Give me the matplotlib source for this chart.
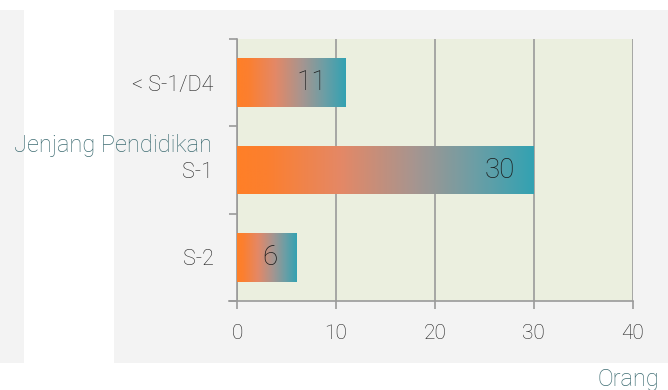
import matplotlib
matplotlib.use("Agg")
import matplotlib.pyplot as plt
import numpy as np
from matplotlib.colors import LinearSegmentedColormap
from matplotlib.patches import Rectangle
from matplotlib import font_manager

categories = ["< S-1/D4", "S-1", "S-2"]
values = [11, 30, 6]
x_ticks = [0, 10, 20, 30, 40]
y_title = "Jenjang Pendidikan"
x_title = "Orang"

names = {f.name for f in font_manager.fontManager.ttflist}
family = "Roboto" if "Roboto" in names else "DejaVu Sans"
plt.rcParams["font.family"] = family
plt.rcParams["font.weight"] = "light"

W, H = 668, 390
fig = plt.figure(figsize=(W / 100, H / 100), dpi=100)
fig.patch.set_facecolor("white")

panel = "#f3f3f3"
fig.patches.append(Rectangle((0, 27 / H), 24 / W, 353 / H, transform=fig.transFigure,
                             facecolor=panel, edgecolor="none", zorder=-5))
fig.patches.append(Rectangle((114 / W, 27 / H), (W - 114) / W, 353 / H, transform=fig.transFigure,
                             facecolor=panel, edgecolor="none", zorder=-5))

ax = fig.add_axes([237 / W, 89 / H, 395.5 / W, 262 / H])
ax.set_facecolor("#ebefdf")

cmap = LinearSegmentedColormap.from_list(
    "bar_grad",
    [(0.0, "#ff7f27"), (0.1, "#fc7f2f"), (0.35, "#e48866"),
     (0.6, "#a69590"), (0.8, "#6d9ea5"), (1.0, "#33a2b2")])

bar_h = 0.56
grad = np.linspace(0, 1, 256).reshape(1, -1)
for i, v in enumerate(values):
    bars = ax.barh(i, v, height=bar_h, color="none", edgecolor="none", zorder=3)
    rect = bars[0]
    im = ax.imshow(grad, cmap=cmap, aspect="auto", zorder=3,
                   extent=[0, v, i + bar_h / 2, i - bar_h / 2], interpolation="bilinear")
    im.set_clip_path(rect)
    ax.annotate(str(v), xy=(v, i), xytext=(-13.5, 0), textcoords="offset points",
                ha="right", va="center", fontsize=20, color="#1a1a1a", zorder=4)

ax.set_xlim(0, 40)
ax.set_ylim(len(categories) - 0.5, -0.5)

grid_c = "#9a9a9a"
ax.set_xticks(x_ticks)
ax.set_xticklabels([str(t) for t in x_ticks])
ax.xaxis.grid(True, color=grid_c, linewidth=1.2, zorder=1)
ax.set_axisbelow(True)

ax.set_yticks(range(len(categories)))
ax.set_yticklabels(categories)
ax.set_yticks(np.arange(-0.5, len(categories)), minor=True)

ax.tick_params(axis="x", length=6, width=1.2, color=grid_c, pad=10.5,
               labelsize=15, labelcolor="#222222")
ax.tick_params(axis="y", which="major", length=0, pad=17,
               labelsize=15.5, labelcolor="#222222")
ax.tick_params(axis="y", which="minor", length=6, width=1.2, color=grid_c)

for side in ("top", "right"):
    ax.spines[side].set_visible(False)
for side in ("left", "bottom"):
    ax.spines[side].set_color(grid_c)
    ax.spines[side].set_linewidth(1.2)
ax.spines["bottom"].set_bounds(-0.85, 40)

fig.text(212 / W, 1 - 152 / H, y_title, ha="right", va="baseline",
         fontsize=17, color="#3d6c72")
fig.text(659 / W, 1 - 386 / H, x_title, ha="right", va="baseline",
         fontsize=17, color="#3d6c72")

fig.savefig("out.png", dpi=100, facecolor=fig.get_facecolor())
